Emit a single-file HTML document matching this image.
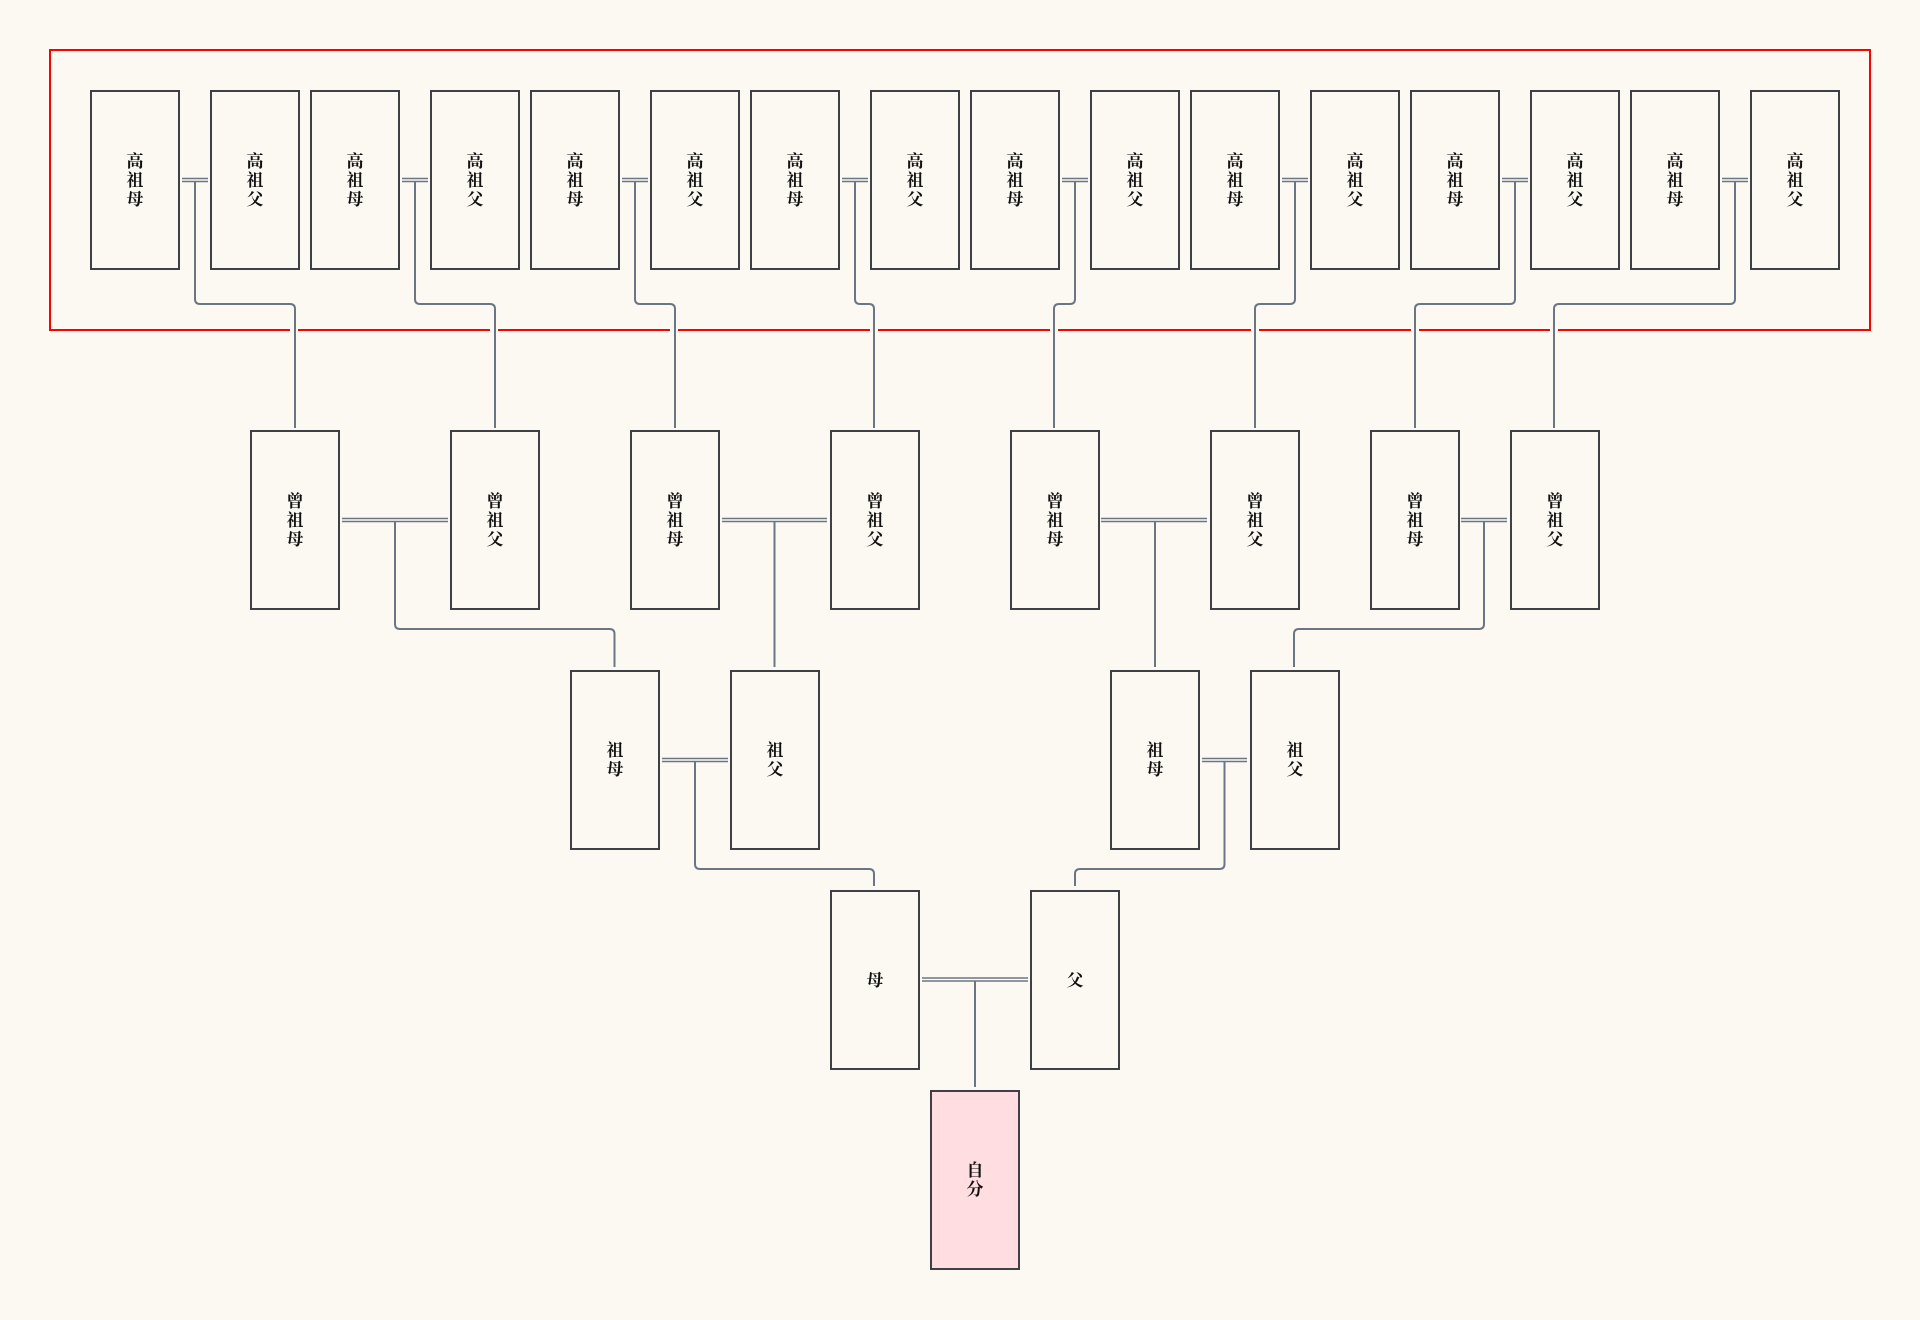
<!DOCTYPE html>
<html><head><meta charset="utf-8"><style>
html,body{margin:0;padding:0;background:#fcf9f2;}
body{width:1920px;height:1320px;position:relative;overflow:hidden;}
svg{position:absolute;left:0;top:0;}
.b{position:absolute;width:90px;height:180px;box-sizing:border-box;border:2px solid #3f3f46;display:flex;align-items:center;justify-content:center;text-align:center;font-family:"Liberation Serif","Noto Serif CJK SC",serif;font-weight:bold;font-size:17px;line-height:19px;color:#111;}
</style></head><body>
<svg width="1920" height="1320" viewBox="0 0 1920 1320">
<rect x="50" y="50" width="1820" height="280" fill="none" stroke="#ff0000" stroke-width="2"/>
<g fill="none" stroke="#fcf9f2" stroke-width="8">
<path d="M294 320V340M494 320V340M674 320V340M874 320V340M1054 320V340M1255 320V340M1415 320V340M1554 320V340"/>
</g>
<g fill="none" stroke="#6b7585" stroke-width="2">
<path d="M195 182V299Q195 304 200 304H290Q295 304 295 309V428"/>
<path d="M415 182V299Q415 304 420 304H490Q495 304 495 309V428"/>
<path d="M635 182V299Q635 304 640 304H670Q675 304 675 309V428"/>
<path d="M855 182V299Q855 304 860 304H869Q874 304 874 309V428"/>
<path d="M1075 182V299Q1075 304 1070 304H1059Q1054 304 1054 309V428"/>
<path d="M1295 182V299Q1295 304 1290 304H1260Q1255 304 1255 309V428"/>
<path d="M1515 182V299Q1515 304 1510 304H1420Q1415 304 1415 309V428"/>
<path d="M1735 182V299Q1735 304 1730 304H1559Q1554 304 1554 309V428"/>
<path d="M395 521V624Q395 629 400 629H609.5Q614.5 629 614.5 634V667"/>
<path d="M774.5 521V667"/>
<path d="M1155 521V667"/>
<path d="M1484 521V624Q1484 629 1479 629H1299Q1294 629 1294 634V667"/>
<path d="M695 761V864Q695 869 700 869H869Q874 869 874 874V886"/>
<path d="M1224.5 761V864Q1224.5 869 1219.5 869H1080Q1075 869 1075 874V886"/>
<path d="M975 981V1087"/>
</g>
<g fill="none" stroke="#6b7585" stroke-width="1.5">
<path d="M182 178.5H208M182 181.5H208M402 178.5H428M402 181.5H428M622 178.5H648M622 181.5H648M842 178.5H868M842 181.5H868M1062 178.5H1088M1062 181.5H1088M1282 178.5H1308M1282 181.5H1308M1502 178.5H1528M1502 181.5H1528M1722 178.5H1748M1722 181.5H1748"/>
<path d="M342 518.5H448M342 521.5H448M722 518.5H827M722 521.5H827M1101 518.5H1207M1101 521.5H1207M1461 518.5H1507M1461 521.5H1507"/>
<path d="M662 758.5H728M662 761.5H728M1202 758.5H1247M1202 761.5H1247"/>
<path d="M922 978H1028M922 981H1028"/>
</g>
</svg>
<div class="b" style="left:90px;top:90px">高<br>祖<br>母</div>
<div class="b" style="left:210px;top:90px">高<br>祖<br>父</div>
<div class="b" style="left:310px;top:90px">高<br>祖<br>母</div>
<div class="b" style="left:430px;top:90px">高<br>祖<br>父</div>
<div class="b" style="left:530px;top:90px">高<br>祖<br>母</div>
<div class="b" style="left:650px;top:90px">高<br>祖<br>父</div>
<div class="b" style="left:750px;top:90px">高<br>祖<br>母</div>
<div class="b" style="left:870px;top:90px">高<br>祖<br>父</div>
<div class="b" style="left:970px;top:90px">高<br>祖<br>母</div>
<div class="b" style="left:1090px;top:90px">高<br>祖<br>父</div>
<div class="b" style="left:1190px;top:90px">高<br>祖<br>母</div>
<div class="b" style="left:1310px;top:90px">高<br>祖<br>父</div>
<div class="b" style="left:1410px;top:90px">高<br>祖<br>母</div>
<div class="b" style="left:1530px;top:90px">高<br>祖<br>父</div>
<div class="b" style="left:1630px;top:90px">高<br>祖<br>母</div>
<div class="b" style="left:1750px;top:90px">高<br>祖<br>父</div>

<div class="b" style="left:250px;top:430px">曾<br>祖<br>母</div>
<div class="b" style="left:450px;top:430px">曾<br>祖<br>父</div>
<div class="b" style="left:630px;top:430px">曾<br>祖<br>母</div>
<div class="b" style="left:830px;top:430px">曾<br>祖<br>父</div>
<div class="b" style="left:1010px;top:430px">曾<br>祖<br>母</div>
<div class="b" style="left:1210px;top:430px">曾<br>祖<br>父</div>
<div class="b" style="left:1370px;top:430px">曾<br>祖<br>母</div>
<div class="b" style="left:1510px;top:430px">曾<br>祖<br>父</div>

<div class="b" style="left:570px;top:670px">祖<br>母</div>
<div class="b" style="left:730px;top:670px">祖<br>父</div>
<div class="b" style="left:1110px;top:670px">祖<br>母</div>
<div class="b" style="left:1250px;top:670px">祖<br>父</div>

<div class="b" style="left:830px;top:890px">母</div>
<div class="b" style="left:1030px;top:890px">父</div>

<div class="b" style="left:930px;top:1090px;background:#ffdde0">自<br>分</div>
</body></html>
